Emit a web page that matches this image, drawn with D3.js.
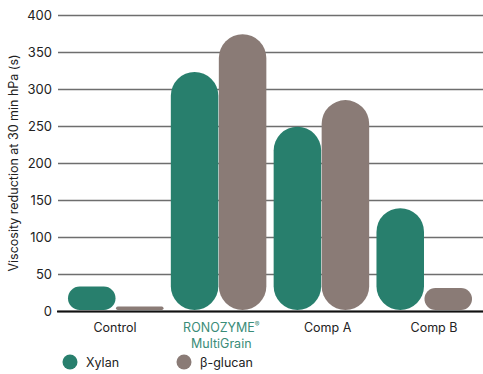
<!DOCTYPE html>
<html>
<head>
<meta charset="utf-8">
<script src="https://cdn.jsdelivr.net/npm/d3@7"></script>
<style>
  body { margin: 0; background: #fff; }
  text { font-family: Inter, "Open Sans", sans-serif; }
</style>
</head>
<body>
<div id="chart"></div>
<script>
var categories = ["Control", "RONOZYME", "Comp A", "Comp B"];
var seriesNames = ["Xylan", "β-glucan"];
var xylan = [33, 323, 249, 139];
var glucan = [6, 374, 285, 31];
var yTicks = [0, 50, 100, 150, 200, 250, 300, 350, 400];

var width = 483, height = 374;
var colors = { "Xylan": "#287f6d", "β-glucan": "#8a7b76" };

var svg = d3.select("#chart").append("svg")
    .attr("width", width)
    .attr("height", height);

var y = d3.scaleLinear().domain([0, 400]).range([311, 15]);

var x0 = d3.scaleBand()
    .domain(categories)
    .range([68, 472])
    .paddingInner(0.071)
    .paddingOuter(0);

var x1 = d3.scaleBand()
    .domain(seriesNames)
    .range([0, x0.bandwidth()])
    .paddingInner(0.01);

// label positions sit a bit to the right of the bar groups
var xLabel = d3.scalePoint().domain(categories).range([115, 434]);

// grid
var yAxis = d3.axisLeft(y)
    .tickValues(yTicks)
    .tickSize(-(width - 58))
    .tickPadding(6);

var gy = svg.append("g")
    .attr("transform", "translate(58,0)")
    .call(yAxis);
gy.select(".domain").remove();
gy.selectAll(".tick line")
    .attr("stroke", "#6e6e6e")
    .attr("stroke-width", 1.3);
gy.selectAll(".tick text")
    .attr("fill", "#222")
    .attr("font-size", "13px");

// bars
var rows = categories.map(function (c, i) {
    return { cat: c, vals: [
        { name: "Xylan", value: xylan[i] },
        { name: "β-glucan", value: glucan[i] }
    ] };
});

var groups = svg.selectAll(".grp")
    .data(rows)
    .enter().append("g")
    .attr("class", "grp")
    .attr("transform", function (d) { return "translate(" + x0(d.cat) + ",0)"; });

groups.selectAll("rect")
    .data(function (d) { return d.vals; })
    .enter().append("rect")
    .attr("x", function (d) { return x1(d.name); })
    .attr("y", function (d) { return y(d.value); })
    .attr("width", x1.bandwidth())
    .attr("height", function (d) { return y(0) - 1 - y(d.value); })
    .attr("rx", function (d) { return Math.min(x1.bandwidth(), y(0) - 1 - y(d.value)) / 2; })
    .attr("ry", function (d) { return Math.min(x1.bandwidth(), y(0) - 1 - y(d.value)) / 2; })
    .attr("fill", function (d) { return colors[d.name]; });

// baseline
svg.append("line")
    .attr("x1", 57).attr("x2", width)
    .attr("y1", y(0) + 0.5).attr("y2", y(0) + 0.5)
    .attr("stroke", "#111")
    .attr("stroke-width", 2.2);

// category labels
categories.forEach(function (c) {
    if (c == "RONOZYME") {
        var t = svg.append("text")
            .attr("x", xLabel(c))
            .attr("y", 332)
            .attr("text-anchor", "middle")
            .attr("font-size", "12.5px")
            .attr("fill", "#3a8c78");
        t.append("tspan").text("RONOZYME");
        t.append("tspan").attr("font-size", "7px").attr("dy", "-5").text("®");
        svg.append("text")
            .attr("x", xLabel(c))
            .attr("y", 348)
            .attr("text-anchor", "middle")
            .attr("font-size", "12.5px")
            .attr("fill", "#3a8c78")
            .text("MultiGrain");
    } else {
        svg.append("text")
            .attr("x", xLabel(c))
            .attr("y", 332)
            .attr("text-anchor", "middle")
            .attr("font-size", "12.5px")
            .attr("fill", "#222")
            .text(c);
    }
});

// y axis title
svg.append("text")
    .attr("transform", "translate(18,163) rotate(-90)")
    .attr("text-anchor", "middle")
    .attr("font-size", "12.5px")
    .attr("fill", "#222")
    .text("Viscosity reduction at 30 min hPa (s)");

// legend
var legendX = d3.scalePoint().domain(seriesNames).range([70, 184]);
var lg = svg.selectAll(".lg")
    .data(seriesNames)
    .enter().append("g")
    .attr("class", "lg")
    .attr("transform", function (d) { return "translate(" + legendX(d) + ",362)"; });
lg.append("circle")
    .attr("r", 7.5)
    .attr("fill", function (d) { return colors[d]; });
lg.append("text")
    .attr("x", 16)
    .attr("y", 4.5)
    .attr("font-size", "12.5px")
    .attr("fill", "#222")
    .text(function (d) { return d; });
</script>
</body>
</html>
